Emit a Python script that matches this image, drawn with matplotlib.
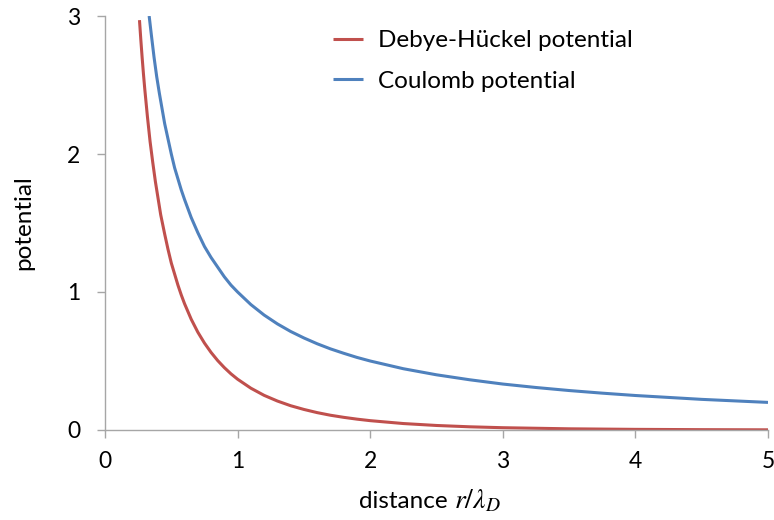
import matplotlib
matplotlib.use("Agg")
import matplotlib.pyplot as plt

# distance r / lambda_D and the two potentials
r_coulomb = [0.333, 0.35, 0.37, 0.39, 0.41, 0.43, 0.45, 0.475, 0.50, 0.525, 0.55, 0.575, 0.60,
             0.65, 0.70, 0.75, 0.80, 0.85, 0.90, 0.95, 1.00, 1.10, 1.20, 1.30, 1.40, 1.50,
             1.60, 1.70, 1.80, 1.90, 2.00, 2.25, 2.50, 2.75, 3.00, 3.25, 3.50, 3.75, 4.00,
             4.50, 5.00]
v_coulomb = [3.00, 2.86, 2.70, 2.56, 2.44, 2.33, 2.22, 2.11, 2.00, 1.90, 1.82, 1.74, 1.67,
             1.54, 1.43, 1.33, 1.25, 1.18, 1.11, 1.05, 1.00, 0.909, 0.833, 0.769, 0.714, 0.667,
             0.625, 0.588, 0.556, 0.526, 0.500, 0.444, 0.400, 0.364, 0.333, 0.308, 0.286, 0.267, 0.250,
             0.222, 0.200]

r_debye = [0.26, 0.27, 0.28, 0.29, 0.30, 0.32, 0.34, 0.36, 0.38, 0.40, 0.42, 0.45, 0.475,
           0.50, 0.525, 0.55, 0.575, 0.60, 0.65, 0.70, 0.75, 0.80, 0.85, 0.90, 0.95, 1.00,
           1.10, 1.20, 1.30, 1.40, 1.50, 1.60, 1.70, 1.80, 1.90, 2.00, 2.25, 2.50, 2.75,
           3.00, 3.50, 4.00, 4.50, 5.00]
v_debye = [2.97, 2.83, 2.70, 2.58, 2.47, 2.27, 2.09, 1.94, 1.80, 1.68, 1.56, 1.42, 1.31,
           1.21, 1.13, 1.05, 0.979, 0.915, 0.803, 0.709, 0.630, 0.562, 0.503, 0.452, 0.407, 0.368,
           0.303, 0.251, 0.210, 0.176, 0.149, 0.126, 0.107, 0.0918, 0.0787, 0.0677, 0.0468, 0.0328, 0.0232,
           0.0166, 0.0086, 0.0046, 0.0025, 0.0013]

x_ticks = [0, 1, 2, 3, 4, 5]
y_ticks = [0, 1, 2, 3]

plt.rcParams['font.family'] = ['Lato', 'DejaVu Sans']
plt.rcParams['mathtext.fontset'] = 'stix'

W, H = 774, 520
fig = plt.figure(figsize=(W / 100, H / 100), dpi=100)
ax = fig.add_axes([105 / W, 90 / H, 663 / W, 414 / H])

red = '#C0504D'
blue = '#4F81BD'
ax.plot(r_debye, v_debye, color=red, lw=2.2, label='Debye-Hückel potential', solid_capstyle='butt')
ax.plot(r_coulomb, v_coulomb, color=blue, lw=2.2, label='Coulomb potential', solid_capstyle='butt')

ax.set_xlim(0, 5)
ax.set_ylim(0, 3)
ax.set_xticks(x_ticks)
ax.set_yticks(y_ticks)

gray = '#A6A6A6'
for side in ('top', 'right'):
    ax.spines[side].set_visible(False)
for side in ('left', 'bottom'):
    ax.spines[side].set_color(gray)
    ax.spines[side].set_linewidth(1.0)
ax.tick_params(axis='both', colors=gray, labelcolor='black', labelsize=16.5,
               length=5.8, width=1.0, direction='out')
ax.tick_params(axis='x', pad=9)
ax.tick_params(axis='y', pad=12)

# axis titles: plain word plus math-italic symbol
fig.text(359 / W, (H - 508) / H, 'distance', fontsize=17.5, ha='left', va='baseline')
fig.text(454 / W, (H - 508) / H, r'$r/\lambda_D$', fontsize=20, ha='left', va='baseline')
fig.text(24 / W, (H - 223) / H, 'potential', fontsize=17.5, ha='center', va='center',
         rotation=90)

ax.legend(loc='upper left', bbox_to_anchor=(228 / 663, (430 - 30) / 414), frameon=False,
          fontsize=17.5, handlelength=1.25, handletextpad=0.62, labelspacing=0.82,
          borderpad=0, borderaxespad=0)

fig.savefig('out.png', dpi=100)
